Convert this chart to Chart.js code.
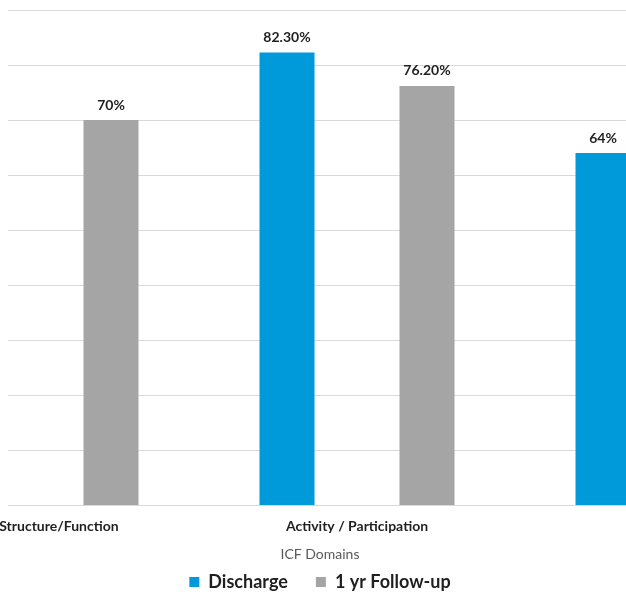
<!DOCTYPE html>
<html>
<head>
<meta charset="utf-8">
<script src="https://cdn.jsdelivr.net/npm/chart.js@4"></script>
<style>
  html, body { margin: 0; padding: 0; background: #ffffff; }
  #wrap { position: relative; width: 626px; height: 594px; overflow: hidden; background: #ffffff; }
  #c { position: absolute; left: -191px; top: 0px; }
</style>
</head>
<body>
<div id="wrap"><canvas id="c" width="1022" height="603"></canvas></div>
<script>
// ---- data ----
const categories = ['Body Structure/Function', 'Activity / Participation', 'Environment'];
const seriesNames = ['Discharge', '1 yr Follow-up'];
const dischargeValues = [null, 82.3, 64];
const followUpValues = [70, 76.2, null];
const yTicks = [0, 10, 20, 30, 40, 50, 60, 70, 80, 90];
const xAxisTitle = 'ICF Domains';

const BLUE = '#009ADA';
const GRAY = '#A5A5A5';
const FONT = 'Lato, "Open Sans", sans-serif';

function fmtPct(v) {
  return (Number.isInteger(v) ? String(v) : v.toFixed(2)) + '%';
}

const valueLabels = {
  id: 'valueLabels',
  afterDatasetsDraw(chart) {
    const ctx = chart.ctx;
    ctx.save();
    ctx.font = 'bold 14px ' + FONT;
    ctx.fillStyle = '#1f1f1f';
    ctx.textAlign = 'center';
    ctx.textBaseline = 'middle';
    chart.data.datasets.forEach((ds, di) => {
      const meta = chart.getDatasetMeta(di);
      meta.data.forEach((el, i) => {
        const v = ds.data[i];
        if (v === null || v === undefined) return;
        ctx.fillText(fmtPct(v), el.x, el.y - 15);
      });
    });
    ctx.restore();
  }
};

// grid lines in the reference begin a few pixels inside the picture's left edge
const gridStart = {
  id: 'gridStart',
  beforeDatasetsDraw(chart) {
    const ctx = chart.ctx;
    const a = chart.chartArea;
    ctx.save();
    ctx.fillStyle = '#ffffff';
    ctx.fillRect(0, a.top - 2, 199, a.bottom - a.top + 4);
    ctx.restore();
  }
};

new Chart(document.getElementById('c'), {
  type: 'bar',
  data: {
    labels: categories,
    datasets: [
      { label: seriesNames[0], data: dischargeValues, backgroundColor: BLUE, borderWidth: 0,
        categoryPercentage: 0.886, barPercentage: 0.393 },
      { label: seriesNames[1], data: followUpValues, backgroundColor: GRAY, borderWidth: 0,
        categoryPercentage: 0.886, barPercentage: 0.393 }
    ]
  },
  options: {
    responsive: false,
    animation: false,
    devicePixelRatio: 1,
    layout: { padding: { top: 10, bottom: 2, left: 0, right: 0 } },
    scales: {
      x: {
        grid: { display: false },
        border: { display: true, color: '#d9d9d9', width: 1 },
        ticks: { color: '#1f1f1f', font: { family: FONT, size: 14, weight: 'bold' }, padding: 5, maxRotation: 0 }
      },
      y: {
        min: yTicks[0],
        max: yTicks[yTicks.length - 1],
        afterBuildTicks(scale) { scale.ticks = yTicks.map(v => ({ value: v })); },
        afterFit(scale) { scale.width = 74; },
        ticks: { display: false },
        grid: { color: '#d9d9d9', lineWidth: 1, drawTicks: false },
        border: { display: false }
      }
    },
    plugins: {
      tooltip: { enabled: false },
      title: {
        display: true,
        text: xAxisTitle,
        position: 'bottom',
        weight: 500,
        color: '#595959',
        font: { family: FONT, size: 14, weight: 'normal' },
        padding: { top: 6, bottom: -18 }
      },
      legend: {
        display: true,
        position: 'bottom',
        weight: 1000,
        labels: {
          boxWidth: 10,
          boxHeight: 10,
          padding: 28,
          color: '#1f1f1f',
          font: { family: FONT, size: 18, weight: 'bold' }
        }
      }
    }
  },
  plugins: [valueLabels, gridStart]
});
</script>
</body>
</html>
